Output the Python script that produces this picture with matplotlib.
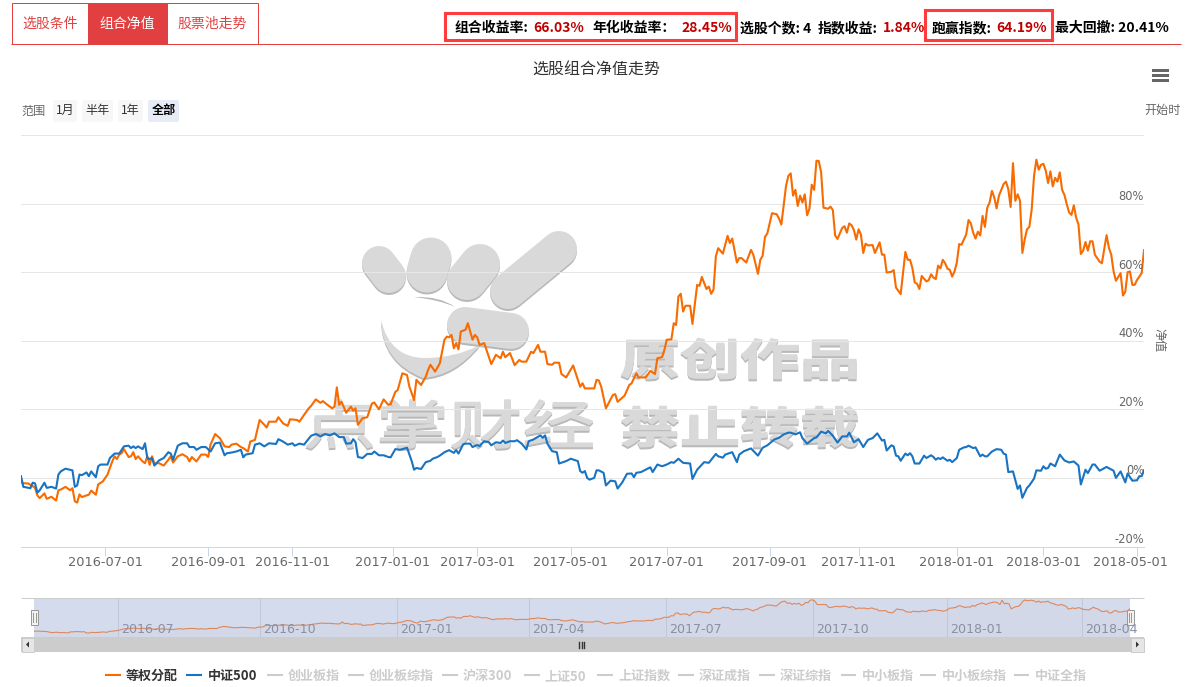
import matplotlib
matplotlib.use('Agg')
import matplotlib.pyplot as plt
from matplotlib.colors import to_rgb
from matplotlib.patches import Rectangle, FancyBboxPatch, PathPatch
from matplotlib.path import Path
from matplotlib.transforms import Affine2D, ScaledTranslation
from matplotlib import patheffects

plt.rcParams['font.family'] = ['Noto Sans CJK SC', 'DejaVu Sans']

# x values are trading day numbers, the stock chart spaces them evenly
equal_days = [
    0, 2, 3, 5, 6, 7, 8, 10, 11, 13, 15, 16, 17, 19, 21,
    22, 23, 24, 25, 26, 28, 29, 30, 32, 33, 35, 37, 39, 40, 41,
    42, 43, 44, 46, 47, 48, 49, 50, 52, 53, 54, 55, 56, 57, 59,
    61, 63, 64, 65, 67, 69, 71, 72, 73, 75, 77, 79, 80, 81, 83,
    85, 87, 89, 90, 92, 94, 95, 97, 98, 100, 102, 104, 105, 106, 109,
    110, 112, 114, 115, 118, 119, 121, 123, 124, 126, 128, 129, 131, 133, 134,
    135, 136, 137, 139, 141, 142, 143, 144, 146, 148, 150, 151, 153, 155, 157,
    158, 160, 161, 163, 165, 166, 167, 168, 169, 171, 173, 174, 175, 177, 179,
    181, 182, 183, 184, 185, 186, 187, 188, 190, 191, 193, 194, 195, 196, 198,
    201, 203, 205, 206, 207, 209, 211, 213, 214, 216, 218, 219, 221, 222, 224,
    225, 227, 228, 230, 231, 233, 236, 239, 240, 241, 245, 246, 247, 248, 250,
    253, 254, 255, 258, 260, 261, 263, 264, 267, 269, 271, 272, 274, 275, 276,
    278, 279, 280, 281, 282, 283, 284, 286, 287, 289, 290, 291, 293, 294, 295,
    296, 297, 298, 300, 302, 303, 304, 306, 307, 308, 310, 312, 313, 315, 316,
    317, 318, 319, 321, 323, 324, 325, 327, 328, 329, 330, 331, 332, 333, 334,
    335, 336, 337, 338, 339, 340, 341, 342, 343, 345, 346, 347, 348, 349, 351,
    352, 353, 354, 355, 356, 357, 358, 359, 360, 361, 362, 364, 365, 367, 368,
    369, 370, 372, 373, 374, 376, 377, 378, 379, 380, 381, 382, 383, 384, 385,
    387, 388, 389, 390, 391, 392, 393, 394, 395, 396, 397, 398, 399, 400, 401,
    402, 403, 404, 405, 406, 407, 408, 409, 410, 411, 412, 413, 414, 415, 416,
    417, 418, 420, 421, 422, 423, 424, 425, 426, 427, 428, 429, 430, 431, 432,
    433, 434, 435, 436, 437, 438, 439, 440, 441, 442, 443, 444, 445, 446, 447,
    448, 449, 450, 451, 452, 453, 454, 455, 456, 457, 458, 459, 461, 462, 464,
    465, 466, 467, 468, 470, 471, 472, 473, 474, 475, 476, 477, 478, 479, 480]
equal_vals = [
    -1.4, -1.6, -1.6, -2.4, -2.9, -5.1, -5.9, -4.5, -6.1, -5.5, -6.6, -3.6, -3.4, -2.6, -3.6,
    -3.0, -6.8, -7.2, -4.8, -5.6, -5.1, -4.9, -3.7, -4.9, -1.9, -1.0, 1.0, 4.8, 6.3, 5.5,
    6.8, 7.2, 8.4, 6.1, 6.3, 7.5, 5.5, 6.3, 4.8, 4.3, 6.3, 3.8, 6.3, 4.2, 4.3,
    3.6, 5.3, 6.3, 4.5, 6.3, 6.9, 6.1, 4.8, 6.1, 4.8, 6.8, 6.8, 6.1, 9.7, 12.8,
    11.6, 9.2, 9.0, 9.7, 10.0, 9.0, 8.7, 7.7, 10.6, 11.1, 16.9, 15.5, 14.7, 16.4, 16.4,
    17.7, 15.9, 15.2, 17.1, 16.9, 16.4, 18.4, 20.3, 21.0, 22.9, 21.9, 22.4, 21.3, 20.3, 20.8,
    26.4, 21.3, 22.2, 19.0, 20.8, 19.6, 20.3, 15.5, 17.4, 17.7, 21.7, 22.0, 20.0, 22.9, 21.3,
    21.5, 25.1, 25.6, 30.5, 30.0, 26.6, 24.7, 22.7, 28.6, 27.1, 29.5, 31.5, 33.0, 31.0, 33.4,
    40.3, 41.2, 41.0, 41.7, 37.8, 39.3, 37.5, 42.7, 43.2, 45.1, 40.3, 41.7, 41.0, 38.8, 39.3,
    33.2, 35.9, 34.9, 36.8, 35.2, 36.4, 32.9, 34.4, 33.9, 33.9, 36.8, 36.4, 38.8, 36.8, 36.8,
    33.2, 33.0, 33.6, 33.6, 30.3, 29.3, 32.8, 26.6, 27.6, 26.1, 26.1, 28.6, 28.4, 26.6, 20.3,
    24.2, 24.4, 22.2, 24.0, 27.1, 27.6, 30.5, 29.3, 29.3, 31.2, 30.3, 34.9, 35.2, 37.3, 40.3,
    40.4, 45.1, 44.6, 52.9, 53.7, 48.5, 50.2, 50.2, 44.9, 56.3, 56.0, 58.6, 55.1, 55.8, 53.7,
    54.9, 64.6, 67.0, 65.4, 70.6, 68.5, 69.8, 62.8, 64.1, 64.1, 62.8, 66.5, 65.1, 59.5, 63.6,
    64.8, 70.3, 71.3, 77.2, 76.9, 75.6, 73.9, 85.2, 88.1, 88.8, 82.3, 84.0, 79.3, 82.3, 80.3,
    82.7, 76.6, 78.5, 85.5, 84.0, 92.5, 92.4, 89.1, 78.8, 78.5, 79.1, 78.1, 70.7, 69.7, 72.9,
    73.4, 71.5, 74.2, 73.7, 72.3, 69.5, 72.5, 71.0, 65.6, 68.3, 67.8, 67.9, 65.6, 68.7, 65.1,
    65.1, 59.9, 60.1, 60.6, 55.5, 53.6, 59.7, 65.9, 63.6, 63.6, 61.2, 57.0, 56.6, 55.1, 58.9,
    57.3, 57.7, 59.4, 58.4, 58.0, 61.9, 61.1, 63.6, 62.6, 61.0, 60.7, 58.7, 60.2, 62.8, 68.2,
    68.0, 69.5, 71.0, 75.2, 74.2, 71.5, 69.8, 71.8, 70.7, 76.4, 73.2, 78.8, 80.3, 83.7, 81.8,
    78.6, 82.3, 85.7, 86.4, 84.2, 79.0, 91.8, 80.8, 82.7, 80.8, 65.6, 69.5, 72.5, 73.2, 78.3,
    88.1, 92.8, 89.9, 91.3, 91.6, 89.6, 86.0, 89.4, 85.0, 87.5, 86.4, 89.1, 84.0, 82.5, 79.8,
    77.4, 76.7, 79.5, 75.9, 73.9, 65.3, 66.3, 68.8, 66.3, 69.0, 69.0, 65.1, 63.1, 62.6, 70.8,
    67.1, 65.1, 60.2, 57.5, 59.7, 53.2, 54.3, 60.0, 60.2, 56.3, 56.3, 57.7, 58.7, 59.7, 66.4]

csi500_days = [
    0, 1, 4, 5, 6, 7, 8, 10, 11, 13, 15, 16, 17, 19, 22,
    23, 24, 25, 26, 28, 29, 30, 32, 33, 34, 37, 38, 40, 42, 44,
    46, 47, 48, 49, 50, 52, 53, 54, 55, 56, 57, 59, 61, 63, 64,
    65, 67, 69, 71, 72, 74, 75, 77, 79, 81, 83, 85, 87, 88, 90,
    92, 94, 95, 96, 99, 100, 102, 104, 106, 109, 110, 112, 114, 116, 117,
    119, 121, 122, 124, 126, 128, 130, 132, 134, 136, 138, 139, 141, 142, 143,
    144, 146, 148, 150, 151, 153, 155, 157, 158, 160, 162, 165, 166, 167, 168,
    169, 171, 173, 175, 176, 178, 179, 181, 183, 185, 186, 187, 189, 190, 192,
    193, 195, 196, 198, 200, 201, 203, 205, 206, 207, 209, 211, 212, 214, 216,
    217, 219, 222, 223, 224, 225, 227, 229, 230, 233, 235, 238, 239, 240, 241,
    242, 243, 245, 246, 247, 249, 250, 252, 254, 255, 257, 259, 261, 262, 263,
    265, 267, 269, 270, 272, 274, 276, 278, 279, 281, 283, 286, 287, 289, 292,
    294, 297, 298, 300, 301, 304, 306, 307, 309, 312, 315, 317, 319, 322, 324,
    326, 328, 329, 331, 333, 334, 336, 339, 340, 342, 344, 345, 347, 349, 351,
    353, 354, 356, 358, 360, 362, 364, 366, 368, 369, 370, 372, 373, 374, 375,
    376, 378, 379, 380, 381, 382, 384, 386, 387, 389, 390, 391, 392, 393, 394,
    396, 397, 398, 400, 401, 403, 404, 405, 407, 408, 410, 411, 412, 413, 415,
    417, 419, 420, 421, 422, 424, 426, 427, 428, 430, 431, 433, 434, 436, 437,
    438, 439, 440, 442, 444, 446, 448, 450, 452, 453, 455, 456, 458, 459, 461,
    464, 467, 468, 470, 472, 473, 475, 477, 478, 479, 480]
csi500_vals = [
    0.5, -2.6, -3.0, -1.4, -1.6, -4.3, -3.6, -1.4, -2.9, -2.6, -3.1, 1.0, 1.9, 2.7, 2.2,
    -2.6, -2.2, 1.0, 0.8, 1.6, 0.5, 1.9, 0.2, 3.4, 3.9, 3.9, 5.8, 7.1, 7.1, 9.2,
    9.4, 8.7, 9.2, 8.7, 9.2, 8.4, 10.1, 5.8, 5.5, 5.8, 3.6, 5.1, 5.8, 7.5, 7.1,
    5.3, 9.4, 10.1, 10.1, 9.0, 9.0, 8.2, 9.0, 9.0, 7.7, 10.1, 10.3, 6.6, 7.2, 7.4,
    7.7, 8.2, 6.0, 6.8, 7.2, 9.7, 10.1, 9.2, 10.1, 9.9, 11.3, 10.6, 9.7, 10.1, 9.4,
    10.0, 9.7, 10.6, 12.3, 12.8, 12.1, 12.8, 12.4, 13.0, 11.9, 11.9, 10.0, 10.1, 11.3, 10.4,
    6.1, 5.8, 7.0, 7.0, 7.7, 6.6, 6.6, 6.1, 6.0, 8.4, 8.2, 8.8, 6.8, 4.9, 2.4,
    2.9, 2.6, 4.6, 5.0, 5.6, 6.1, 6.5, 7.5, 8.1, 7.3, 8.1, 7.1, 9.8, 10.0, 10.0,
    9.0, 9.6, 9.3, 10.7, 10.4, 9.5, 10.4, 10.2, 10.9, 10.2, 10.7, 10.7, 11.0, 10.0, 8.3,
    10.7, 11.2, 12.4, 11.7, 12.4, 10.0, 7.8, 7.5, 4.2, 4.9, 5.6, 4.9, 2.0, 1.5, 2.0,
    0, -0.5, 0, 2.2, 2.2, 1.5, -2.2, -0.8, -1.0, -3.1, -1.3, 1.2, 1.3, 0.2, 1.5,
    1.7, 2.4, 3.1, 1.7, 3.9, 3.4, 3.9, 4.6, 4.4, 5.6, 4.4, 4.2, -0.3, 2.4, 4.6,
    4.4, 7.0, 6.3, 5.9, 6.8, 7.5, 4.6, 6.8, 7.8, 8.6, 6.5, 8.8, 9.5, 11.2, 11.7,
    12.7, 13.2, 13.2, 12.7, 13.3, 11.6, 10.0, 11.6, 11.8, 13.5, 13.0, 13.7, 12.3, 10.3, 12.1,
    12.1, 13.2, 10.4, 11.3, 9.0, 11.1, 11.6, 13.0, 10.9, 11.1, 8.0, 9.5, 9.2, 6.5, 6.3,
    5.0, 7.1, 6.6, 7.2, 6.3, 4.2, 4.2, 6.5, 5.8, 6.6, 6.1, 5.3, 5.8, 5.5, 6.0,
    5.0, 5.3, 4.6, 5.8, 8.2, 8.9, 9.0, 9.4, 8.7, 8.9, 6.3, 6.8, 6.3, 6.3, 7.7,
    8.4, 8.2, 7.1, 6.8, 1.7, 1.9, -3.2, -2.2, -5.8, -2.9, -2.2, -0.2, 2.2, 2.1, 3.4,
    2.7, 2.9, 4.2, 3.4, 6.8, 5.1, 4.5, 4.8, 3.6, -1.9, 2.4, 1.4, 3.9, 3.9, 2.1,
    3.2, 2.1, 0, 1.9, -1.3, 1.3, -0.8, -0.7, 0.5, 0.5, 2.2]

tick_days = [36, 80, 116, 159, 195, 235, 276, 320, 358, 400, 437, 477]
tick_labels = ['2016-07-01', '2016-09-01', '2016-11-01', '2017-01-01', '2017-03-01', '2017-05-01',
               '2017-07-01', '2017-09-01', '2017-11-01', '2018-01-01', '2018-03-01', '2018-05-01']
y_ticks = [-20, 0, 20, 40, 60, 80, 100]
y_labels = ['-20%', '0%', '20%', '40%', '60%', '80%']
nav_days = [37, 99, 159, 217, 277, 341, 400, 459]
nav_labels = ['2016-07', '2016-10', '2017-01', '2017-04', '2017-07', '2017-10', '2018-01', '2018-04']
tab_names = ['选股条件', '组合净值', '股票池走势']
range_names = ['1月', '半年', '1年', '全部']
legend_names = ['等权分配', '中证500', '创业板指', '创业板综指', '沪深300', '上证50',
                '上证指数', '深证成指', '深证综指', '中小板指', '中小板综指', '中证全指']

W, H = 1191, 687
ORANGE = '#f76b00'
BLUE = '#1873c2'
RED = '#e24040'
DARKRED = '#c00000'
BOXRED = '#ff3b3b'


class Squash(patheffects.AbstractPathEffect):
    # the watermark letters are wider than they are tall, and heavier than the font
    def __init__(self, sy, color, dy=0, stroke=0):
        super().__init__()
        self.sy = sy
        self.color = to_rgb(color)
        self.dy = dy
        self.stroke = stroke

    def draw_path(self, renderer, gc, tpath, affine, rgbFace=None):
        tr = Affine2D().scale(1, self.sy) + affine + Affine2D().translate(0, -self.dy)
        gc0 = renderer.new_gc()
        gc0.copy_properties(gc)
        gc0.set_foreground(self.color)
        gc0.set_linewidth(self.stroke)
        renderer.draw_path(gc0, tpath, tr, self.color)
        gc0.restore()


fig = plt.figure(figsize=(W / 100, H / 100), dpi=100, facecolor='white')

# page layer in pixels, y going down
bg = fig.add_axes([0, 0, 1, 1], zorder=0)
bg.set_xlim(0, W)
bg.set_ylim(H, 0)
bg.axis('off')


def rect(x0, y0, x1, y1, **kw):
    bg.add_patch(Rectangle((x0, y0), x1 - x0, y1 - y0, **kw))


def hline(x0, x1, y, color, lw=0.72):
    bg.plot([x0, x1], [y, y], color=color, lw=lw, solid_capstyle='butt')


# watermark
GREY = '#d9d9d9'
SHADOW = '#b8b8b8'
capsules = [((379, 263), (389, 276), 34), ((431, 258), (427, 272), 41), ((480, 264), (467, 280), 40),
            ((559, 249), (508, 291), 36), ((465, 325), (511, 331), 36)]
for a, b, w in capsules:
    bg.plot([a[0], b[0]], [a[1] + 2, b[1] + 2], color=SHADOW, lw=w * 0.72, solid_capstyle='round')
    bg.plot([a[0], b[0]], [a[1], b[1]], color=GREY, lw=w * 0.72, solid_capstyle='round')
swoosh_v = [(381, 320), (382, 362), (423, 378), (455, 376), (480, 345),
            (455, 358), (425, 358), (390, 358), (381, 320)]
swoosh_c = [Path.MOVETO, Path.CURVE3, Path.CURVE3, Path.CURVE3, Path.CURVE3,
            Path.CURVE3, Path.CURVE3, Path.CURVE3, Path.CURVE3]
bg.add_patch(PathPatch(Path([(x, y + 2) for x, y in swoosh_v], swoosh_c), fc=SHADOW, ec='none'))
bg.add_patch(PathPatch(Path(swoosh_v, swoosh_c), fc=GREY, ec='none'))
crescent_v = [(414, 297), (440, 296), (455, 307), (440, 300), (414, 297)]
bg.add_patch(PathPatch(Path(crescent_v, [Path.MOVETO, Path.CURVE3, Path.CURVE3, Path.CURVE3, Path.CURVE3]),
                       fc=SHADOW, ec='none'))
for s, x, y, size, weight, stroke in [('点掌财经', 303, 444, 52.6, 'regular', 0.8),
                                      ('原创作品', 620, 375, 43.2, 'bold', 0.8),
                                      ('禁止转载', 620, 443, 43.2, 'bold', 0.8)]:
    bg.text(x, y, s, fontsize=size, fontweight=weight, ha='left', va='baseline', color=GREY,
            path_effects=[Squash(0.72, SHADOW, 2, stroke), Squash(0.72, GREY, 0, stroke)])

# tabs on top
hline(11, 1181, 43.5, RED)
rect(11.5, 2.5, 257.5, 43.5, fc='none', ec=RED, lw=0.72)
rect(88, 2.5, 167, 43.5, fc=RED, ec=RED, lw=0.72)
for s, x, c in zip(tab_names, [50, 127, 212], [RED, 'white', RED]):
    bg.text(x, 24, s, fontsize=10, color=c, ha='center', va='center')

# summary figures
for s, x in [('组合收益率:', 455), ('年化收益率：', 592.5), ('选股个数: 4', 739.5), ('指数收益:', 818),
             ('跑赢指数:', 932), ('最大回撤: 20.41%', 1055)]:
    bg.text(x, 32, s, fontsize=10, fontweight='bold', color='black', ha='left', va='baseline')
for s, x in [('66.03%', 533.5), ('28.45%', 681), ('1.84%', 883), ('64.19%', 996.5)]:
    bg.text(x, 32, s, fontsize=10, fontweight='bold', color=DARKRED, ha='left', va='baseline')
rect(444.5, 12.5, 735.5, 40, fc='none', ec=BOXRED, lw=2.2)
rect(925, 9.5, 1051.5, 40, fc='none', ec=BOXRED, lw=2.2)

bg.text(596, 70, '选股组合净值走势', fontsize=11.5, color='#333333', ha='center', va='center')
for y in [70.5, 75.5, 80.5]:
    rect(1152, y - 1.5, 1169, y + 1.5, fc='#666666', ec='none')

# range buttons
bg.text(21, 111, '范围', fontsize=8.7, color='#666666', ha='left', va='center')
for s, x0, x1 in zip(range_names, [53, 82, 118, 148], [77, 113, 143, 179]):
    on = s == '全部'
    bg.add_patch(FancyBboxPatch((x0 + 1, 101), x1 - x0 - 2, 20, boxstyle='round,pad=1,rounding_size=2',
                                fc='#e6ebf5' if on else '#f7f7f7', ec='none'))
    bg.text((x0 + x1) / 2, 110.5, s, fontsize=8.7, color='black' if on else '#333333',
            fontweight='bold' if on else 'normal', ha='center', va='center')
bg.text(1144, 110.5, '开始时', fontsize=8.7, color='#666666', ha='left', va='center')
bg.text(1159, 340, '净值', fontsize=8.7, color='#666666', rotation=270, ha='center', va='center')

# main chart
ax = fig.add_axes([21 / W, (H - 546.5) / H, 1123 / W, 411.5 / H], zorder=1)
ax.patch.set_alpha(0)
ax.plot(equal_days, equal_vals, color=ORANGE, lw=1.5, solid_joinstyle='round')
ax.plot(csi500_days, csi500_vals, color=BLUE, lw=1.5, solid_joinstyle='round')
ax.set_xlim(0, 480)
ax.set_ylim(-20, 100)
ax.set_yticks(y_ticks)
ax.set_xticks(tick_days)
ax.set_xticklabels(tick_labels)
ax.grid(axis='y', color='#e6e6e6', lw=0.72)
ax.set_axisbelow(True)
ax.tick_params(axis='y', length=0, labelleft=False)
ax.tick_params(axis='x', length=6.5, width=0.72, color='#ccd6eb', labelsize=9.3, labelcolor='#666666', pad=0.5)
for name in ['top', 'left', 'right']:
    ax.spines[name].set_visible(False)
ax.spines['bottom'].set_color('#ccd6eb')
ax.spines['bottom'].set_linewidth(0.72)
for lab in ax.get_xticklabels():
    lab.set_fontfamily('DejaVu Sans')
last = ax.get_xticklabels()[-1]
last.set_transform(last.get_transform() + ScaledTranslation(-6 / 100, 0, fig.dpi_scale_trans))
for v, s in zip(y_ticks, y_labels):
    ax.annotate(s, xy=(1, v), xycoords=ax.get_yaxis_transform(), xytext=(0, 5), textcoords='offset points',
                ha='right', va='center', fontsize=8.3, color='#666666', family='DejaVu Sans')

# navigator
rect(34, 598, 1130, 637, fc='#d3dbed', ec='none')
hline(21, 1144, 597.5, '#cccccc')
nav = fig.add_axes([34 / W, (H - 637) / H, 1096 / W, 39 / H], zorder=1)
nav.patch.set_alpha(0)
nav.fill_between(equal_days, equal_vals, -19, color='#e08a5a', alpha=0.03, lw=0)
nav.plot(equal_days, equal_vals, color='#e0875a', lw=0.8)
nav.set_xlim(0, 480)
nav.set_ylim(-19, 98.5)
nav.axis('off')
for d, s in zip(nav_days, nav_labels):
    nav.axvline(d, color='#c0c8da', lw=0.72, zorder=0)
    nav.annotate(s, xy=(d, 0), xycoords=nav.get_xaxis_transform(), xytext=(2.2, 1), textcoords='offset points',
                 fontsize=9.1, color='#8a8fa3', family='DejaVu Sans', ha='left', va='bottom', annotation_clip=False)

# scrollbar
rect(21, 637, 1144, 652, fc='#cccccc', ec='none')
for x0, x1 in [(21, 34), (1130, 1144)]:
    rect(x0 + 0.5, 637.5, x1 - 0.5, 651.5, fc='#e6e6e6', ec='#cccccc', lw=0.72)
bg.fill([26, 29, 29], [644.5, 641.5, 647.5], color='#333333', lw=0)
bg.fill([1139, 1136, 1136], [644.5, 641.5, 647.5], color='#333333', lw=0)
for x in [579, 581.5, 584]:
    bg.plot([x, x], [641.5, 647.5], color='#333333', lw=1)
# handles sit over the scrollbar layer
for xc in [34.5, 1130]:
    rect(xc - 3.5, 610, xc + 3.5, 624.5, fc='#f2f2f2', ec='#999999', lw=0.72, zorder=5)
    for dx in [-1.2, 1.2]:
        bg.plot([xc + dx, xc + dx], [613, 621.5], color='#999999', lw=0.72, zorder=6)

# legend
line_x = [(105, 120.5), (186, 202), (267, 283), (348, 363.5), (442, 458), (524, 540),
          (597, 613), (678, 693.5), (759, 774.5), (840.5, 855.5), (920, 935.5), (1013.5, 1028.5)]
text_x = [125.5, 208, 288, 369, 463, 544.5, 618, 699, 780, 862, 941.5, 1034.5]
line_c = [ORANGE, BLUE] + ['#cccccc'] * 10
text_c = ['#333333', '#333333'] + ['#cccccc'] * 10
for s, lx, tx, lc, tc in zip(legend_names, line_x, text_x, line_c, text_c):
    hline(lx[0], lx[1], 675, lc, lw=1.5)
    bg.text(tx, 680, s, fontsize=9.4, fontweight='bold', color=tc, ha='left', va='baseline')

fig.savefig('out.png', dpi=100)
